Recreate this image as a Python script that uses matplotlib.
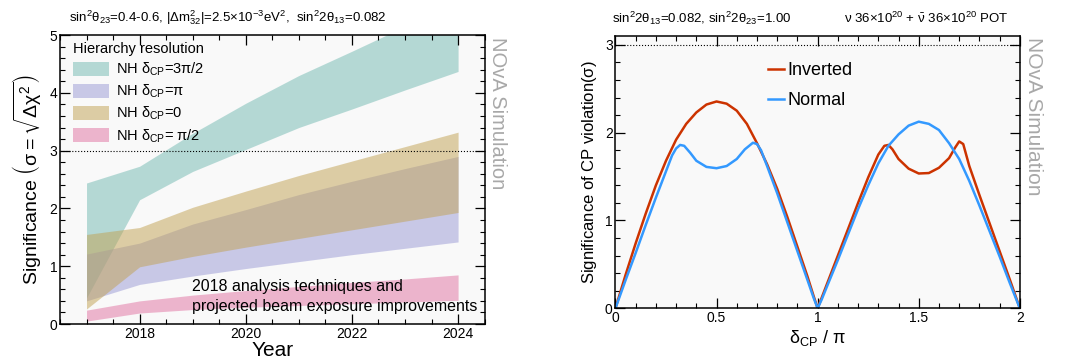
import matplotlib
matplotlib.use('Agg')
import matplotlib.pyplot as plt
from matplotlib.patches import Patch
from matplotlib.ticker import MultipleLocator

plt.rcParams['font.family'] = ['Liberation Sans', 'DejaVu Sans']
plt.rcParams['mathtext.fontset'] = 'dejavusans'
plt.rcParams['mathtext.default'] = 'regular'

# left panel: hierarchy resolution bands vs year
years = [2017, 2018, 2019, 2020, 2021, 2022, 2023, 2024]
teal_lo = [0.45, 2.15, 2.64, 3.02, 3.40, 3.72, 4.05, 4.37]
teal_hi = [2.44, 2.73, 3.30, 3.82, 4.30, 4.72, 5.15, 5.55]
purple_lo = [0.40, 0.685, 0.83, 0.96, 1.08, 1.20, 1.31, 1.42]
purple_hi = [1.21, 1.40, 1.73, 1.98, 2.24, 2.47, 2.69, 2.90]
tan_lo = [0.26, 0.99, 1.17, 1.33, 1.48, 1.63, 1.78, 1.93]
tan_hi = [1.55, 1.67, 2.02, 2.30, 2.57, 2.82, 3.07, 3.32]
pink_lo = [0.05, 0.19, 0.25, 0.29, 0.32, 0.35, 0.38, 0.41]
pink_hi = [0.24, 0.40, 0.50, 0.58, 0.65, 0.72, 0.78, 0.85]
band_labels = [r'NH $\delta_{CP}$=3$\pi$/2', r'NH $\delta_{CP}$=$\pi$',
               r'NH $\delta_{CP}$=0', r'NH $\delta_{CP}$= $\pi$/2']

# right panel: CP violation significance vs delta_CP/pi
inv_x = [0, 0.05, 0.10, 0.15, 0.20, 0.25, 0.30, 0.35, 0.40, 0.45, 0.50, 0.55, 0.60,
         0.65, 0.70, 0.75, 0.80, 0.85, 0.90, 0.95, 0.98, 1.00, 1.02, 1.05, 1.10, 1.15,
         1.20, 1.25, 1.30, 1.33, 1.35, 1.37, 1.40, 1.45, 1.50, 1.55, 1.60, 1.65, 1.68,
         1.70, 1.72, 1.75, 1.80, 1.85, 1.90, 1.95, 2.00]
inv_y = [0, 0.38, 0.74, 1.08, 1.40, 1.68, 1.92, 2.10, 2.23, 2.32, 2.355, 2.33, 2.25,
         2.10, 1.88, 1.64, 1.36, 1.04, 0.70, 0.36, 0.14, 0.0, 0.12, 0.30, 0.60, 0.90,
         1.20, 1.49, 1.75, 1.85, 1.86, 1.81, 1.70, 1.59, 1.535, 1.54, 1.60, 1.71, 1.83,
         1.90, 1.87, 1.62, 1.29, 0.97, 0.65, 0.33, 0]
nor_x = [0, 0.05, 0.10, 0.15, 0.20, 0.25, 0.28, 0.30, 0.32, 0.34, 0.37, 0.40, 0.45,
         0.50, 0.55, 0.60, 0.64, 0.68, 0.70, 0.72, 0.75, 0.80, 0.85, 0.90, 0.95, 0.98,
         1.00, 1.02, 1.05, 1.10, 1.15, 1.20, 1.25, 1.30, 1.35, 1.40, 1.45, 1.50, 1.55,
         1.60, 1.65, 1.70, 1.75, 1.80, 1.85, 1.90, 1.95, 2.00]
nor_y = [0, 0.32, 0.63, 0.95, 1.26, 1.56, 1.74, 1.82, 1.86, 1.85, 1.77, 1.68, 1.61,
         1.595, 1.62, 1.70, 1.81, 1.885, 1.87, 1.80, 1.62, 1.31, 0.98, 0.65, 0.32, 0.12,
         0, 0.10, 0.27, 0.55, 0.84, 1.13, 1.40, 1.65, 1.85, 1.98, 2.08, 2.125, 2.10,
         2.03, 1.88, 1.70, 1.45, 1.17, 0.88, 0.59, 0.29, 0]

fig = plt.figure(figsize=(10.67, 3.63), dpi=100)
fig.patch.set_facecolor('white')

ax1 = fig.add_axes([0.0562, 0.1074, 0.398, 0.796])
ax2 = fig.add_axes([0.5768, 0.1507, 0.379, 0.750])

colors = ['#71b9b1', '#9999d5', '#c1a151', '#e171a1']
bands = [(teal_lo, teal_hi), (purple_lo, purple_hi), (tan_lo, tan_hi), (pink_lo, pink_hi)]
for (lo, hi), c in zip(bands, colors):
    ax1.fill_between(years, lo, hi, color=c, alpha=0.5, lw=0)

ax1.axhline(3, color='k', ls=':', lw=0.8)
ax1.set_xlim(2016.5, 2024.5)
ax1.set_ylim(0, 5)
ax1.xaxis.set_major_locator(MultipleLocator(2))
ax1.xaxis.set_minor_locator(MultipleLocator(0.5))
ax1.yaxis.set_major_locator(MultipleLocator(1))
ax1.yaxis.set_minor_locator(MultipleLocator(0.2))
ax1.set_xlabel('Year', fontsize=15, labelpad=0)
ax1.set_ylabel(r'Significance $\left(\sigma=\sqrt{\Delta\chi^2}\right)$', fontsize=14, labelpad=4)

handles = [Patch(facecolor=c, alpha=0.5, edgecolor='none') for c in colors]
leg = ax1.legend(handles, band_labels, title='Hierarchy resolution', loc='upper left',
                 bbox_to_anchor=(0.03, 0.975), frameon=False, fontsize=10.5,
                 title_fontsize=10.5, handlelength=2.5, handleheight=1.1,
                 handletextpad=0.5, labelspacing=0.32, borderpad=0, borderaxespad=0,
                 alignment='left')

ax1.text(2018.99, 0.65, '2018 analysis techniques and', fontsize=11.5, va='center')
ax1.text(2018.99, 0.31, 'projected beam exposure improvements', fontsize=11.5, va='center')

ax2.plot(inv_x, inv_y, color='#cc3300', lw=1.8, label='Inverted')
ax2.plot(nor_x, nor_y, color='#3399ff', lw=1.8, label='Normal')
ax2.axhline(3, color='k', ls=':', lw=0.8)
ax2.set_xlim(0, 2)
ax2.set_ylim(0, 3.1)
ax2.xaxis.set_major_locator(MultipleLocator(0.5))
ax2.xaxis.set_minor_locator(MultipleLocator(0.1))
ax2.yaxis.set_major_locator(MultipleLocator(1))
ax2.yaxis.set_minor_locator(MultipleLocator(0.2))
ax2.set_xticks([0, 0.5, 1, 1.5, 2])
ax2.set_xticklabels(['0', '0.5', '1', '1.5', '2'])
ax2.set_xlabel(r'$\delta_{CP}$ / $\pi$', fontsize=13, labelpad=2)
ax2.set_ylabel(r'Significance of CP violation($\sigma$)', fontsize=12, labelpad=4)
ax2.legend(loc='upper left', bbox_to_anchor=(0.377, 0.905), frameon=False, fontsize=13,
           handlelength=0.9, handletextpad=0.2, labelspacing=0.75, borderpad=0,
           borderaxespad=0)

for ax in (ax1, ax2):
    ax.set_facecolor('#f9f9f9')
    for s in ax.spines.values():
        s.set_linewidth(1.1)
    ax.tick_params(which='both', direction='in', top=True, right=True, labelsize=10, pad=2)
    ax.tick_params(which='major', length=7, width=0.9)
    ax.tick_params(which='minor', length=3.5, width=0.8)

fig.text(69 / 1067, 1 - 18 / 363,
         r'sin$^2\theta_{23}$=0.4-0.6, |$\Delta$m$^2_{32}$|=2.5$\times$10$^{-3}$eV$^2$,  sin$^2$2$\theta_{13}$=0.082',
         fontsize=9.5, va='center', ha='left')
fig.text(612 / 1067, 1 - 18 / 363, r'sin$^2$2$\theta_{13}$=0.082, sin$^2$2$\theta_{23}$=1.00',
         fontsize=9.5, va='center', ha='left')
fig.text(1008 / 1067, 1 - 18 / 363, r'$\nu$ 36$\times$10$^{20}$ + $\bar{\nu}$ 36$\times$10$^{20}$ POT',
         fontsize=9.5, va='center', ha='right')

fig.text(497 / 1067, 1 - 37 / 363, 'NOvA Simulation', rotation=-90, color='#a8a8a8',
         fontsize=14.5, ha='center', va='top')
fig.text(1033 / 1067, 1 - 37 / 363, 'NOvA Simulation', rotation=-90, color='#a8a8a8',
         fontsize=15, ha='center', va='top')

fig.savefig('out.png', dpi=100)
